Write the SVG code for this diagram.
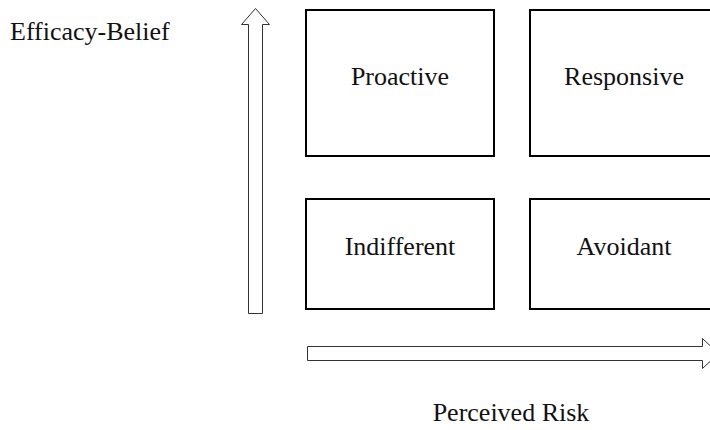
<svg xmlns="http://www.w3.org/2000/svg" width="710" height="430" viewBox="0 0 710 430">
<style>
  .box { fill: #fff; stroke: #000; stroke-width: 2; }
  .arrow { fill: #fff; stroke: #333; stroke-width: 1; }
  text { font-family: "Liberation Serif", "Times New Roman", serif; font-size: 26px; fill: #111; }
  .c { text-anchor: middle; }
</style>
<rect width="710" height="430" fill="#fff"/>
<g id="connectors">
  <polygon class="arrow" points="248.5,313.5 248.5,24.5 241.5,24.5 255.5,8.5 269.5,24.5 262.5,24.5 262.5,313.5"/>
  <polygon class="arrow" points="307.5,346.5 702.5,346.5 702.5,338.5 718.5,353.5 702.5,368.5 702.5,360.5 307.5,360.5"/>
</g>
<g id="label-efficacy"><text x="10" y="40">Efficacy-Belief</text></g>
<g id="label-risk"><text class="c" x="511" y="421">Perceived Risk</text></g>
<g id="node-proactive">
  <rect class="box" x="306" y="10" width="188" height="146"/>
  <text class="c" x="400" y="85">Proactive</text>
</g>
<g id="node-responsive">
  <rect class="box" x="530" y="10" width="188" height="146"/>
  <text class="c" x="624" y="85">Responsive</text>
</g>
<g id="node-indifferent">
  <rect class="box" x="306" y="199" width="188" height="110"/>
  <text class="c" x="400" y="255">Indifferent</text>
</g>
<g id="node-avoidant">
  <rect class="box" x="530" y="199" width="188" height="110"/>
  <text class="c" x="624" y="255">Avoidant</text>
</g>
</svg>
